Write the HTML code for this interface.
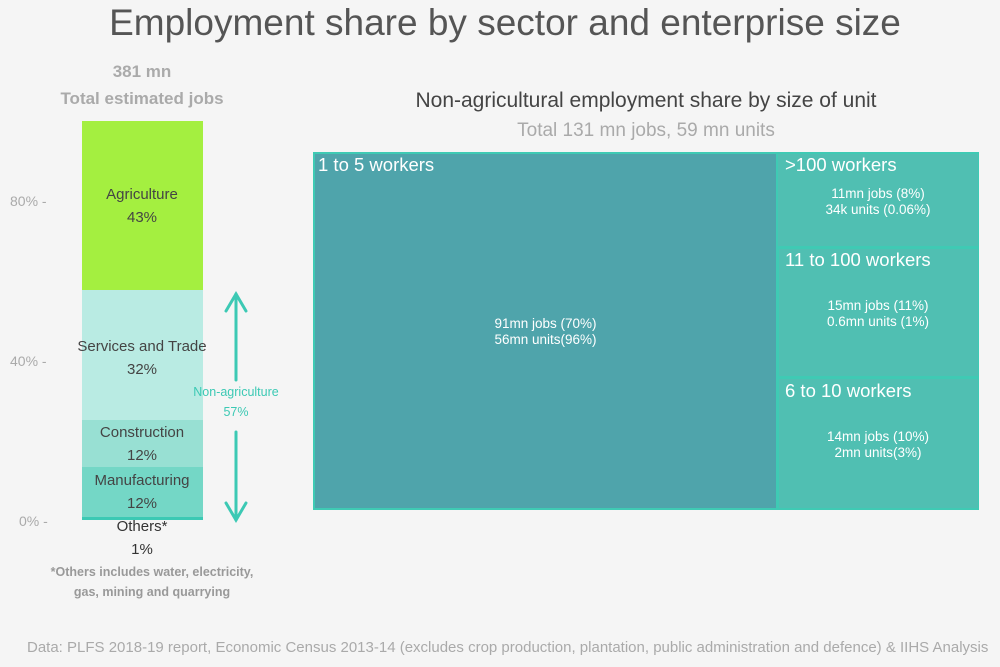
<!DOCTYPE html>
<html><head><meta charset="utf-8"><style>
body{margin:0;width:1000px;height:667px;background:#f5f5f5;font-family:"Liberation Sans","DejaVu Sans",sans-serif;position:relative;overflow:hidden}
.a{position:absolute;white-space:nowrap}
.c{text-align:center}
</style></head><body>
<div class="a c" style="left:0;width:1010px;top:2px;font-size:37px;color:#555">Employment share by sector and enterprise size</div>
<div class="a c" style="left:42px;width:200px;top:58px;font-size:17px;color:#aaa;line-height:27px;font-weight:bold">381 mn<br>Total estimated jobs</div>
<div class="a c" style="left:313px;width:666px;top:89px;font-size:21px;color:#444">Non-agricultural employment share by size of unit</div>
<div class="a c" style="left:313px;width:666px;top:120px;font-size:19px;color:#aaa">Total 131 mn jobs, 59 mn units</div>

<div class="a" style="left:10px;top:193px;font-size:14px;color:#aaa">80% -</div>
<div class="a" style="left:10px;top:353px;font-size:14px;color:#aaa">40% -</div>
<div class="a" style="left:19px;top:513px;font-size:14px;color:#aaa">0% -</div>

<div class="a" style="left:82px;top:121px;width:121px;height:169px;background:#a4ef40"></div>
<div class="a" style="left:82px;top:290px;width:121px;height:130px;background:#b9ebe3"></div>
<div class="a" style="left:82px;top:420px;width:121px;height:47px;background:#98e0d3"></div>
<div class="a" style="left:82px;top:467px;width:121px;height:50px;background:#74d7c6"></div>
<div class="a" style="left:82px;top:517px;width:121px;height:3px;background:#3cc9b4"></div>

<div class="a c" style="left:42px;width:200px;top:183px;font-size:15px;color:#444;line-height:23px">Agriculture<br>43%</div>
<div class="a c" style="left:42px;width:200px;top:335px;font-size:15px;color:#444;line-height:23px">Services and Trade<br>32%</div>
<div class="a c" style="left:42px;width:200px;top:421px;font-size:15px;color:#444;line-height:23px">Construction<br>12%</div>
<div class="a c" style="left:42px;width:200px;top:469px;font-size:15px;color:#444;line-height:23px">Manufacturing<br>12%</div>
<div class="a c" style="left:42px;width:200px;top:515px;font-size:15px;color:#333;line-height:23px">Others*<br>1%</div>
<div class="a c" style="left:42px;width:220px;top:562px;font-size:12.5px;color:#999;line-height:20px;font-weight:bold">*Others includes water, electricity,<br>gas, mining and quarrying</div>

<svg class="a" style="left:0;top:0" width="300" height="560">
<g stroke="#3cc9b4" stroke-width="3" fill="none" stroke-linecap="round">
<line x1="236" y1="294" x2="236" y2="380"/><polyline points="226,311 236,294 246,311"/>
<line x1="236" y1="432" x2="236" y2="520"/><polyline points="226,503 236,520 246,503"/>
</g></svg>
<div class="a c" style="left:186px;width:100px;top:382px;font-size:12.5px;color:#3cc9b4;line-height:20px">Non-agriculture<br>57%</div>

<div class="a" style="left:313px;top:152px;width:666px;height:358px;background:#3fcab4"></div>
<div class="a" style="left:315px;top:154px;width:461px;height:354px;background:#4fa4ab"></div>
<div class="a" style="left:778px;top:154px;width:200px;height:92px;background:#50bfb2"></div>
<div class="a" style="left:779px;top:249px;width:199px;height:127px;background:#50bfb2"></div>
<div class="a" style="left:779px;top:379px;width:199px;height:129px;background:#50bfb2"></div>

<div class="a" style="left:318px;top:154px;font-size:18.5px;color:#fff">1 to 5 workers</div>
<div class="a c" style="left:315px;width:461px;top:316px;font-size:13.5px;color:#fff;line-height:16px">91mn jobs (70%)<br>56mn units(96%)</div>
<div class="a" style="left:785px;top:154px;font-size:18.5px;color:#fff">&gt;100 workers</div>
<div class="a c" style="left:778px;width:200px;top:186px;font-size:13.5px;color:#fff;line-height:16px">11mn jobs (8%)<br>34k units (0.06%)</div>
<div class="a" style="left:785px;top:249px;font-size:18.5px;color:#fff">11 to 100 workers</div>
<div class="a c" style="left:778px;width:200px;top:298px;font-size:13.5px;color:#fff;line-height:16px">15mn jobs (11%)<br>0.6mn units (1%)</div>
<div class="a" style="left:785px;top:380px;font-size:18.5px;color:#fff">6 to 10 workers</div>
<div class="a c" style="left:778px;width:200px;top:429px;font-size:13.5px;color:#fff;line-height:16px">14mn jobs (10%)<br>2mn units(3%)</div>

<div class="a" style="left:27px;top:639px;font-size:15px;color:#aaa">Data: PLFS 2018-19 report, Economic Census 2013-14 (excludes crop production, plantation, public administration and defence) &amp; IIHS Analysis</div>
</body></html>
